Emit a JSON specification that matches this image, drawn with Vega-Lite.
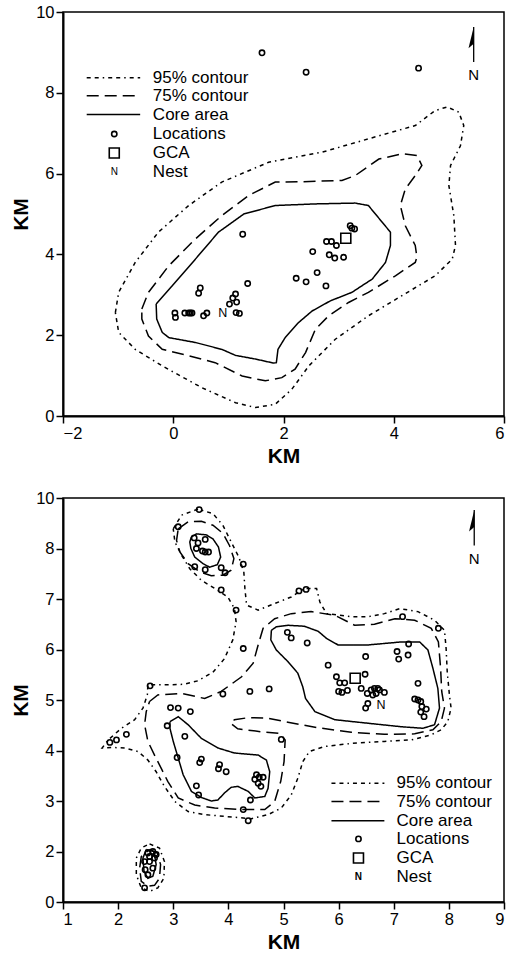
{
"$schema":"https://vega.github.io/schema/vega-lite/v6.json",
"padding":{"left":9,"top":3,"right":0,"bottom":5},
"spacing":21,
"config":{
 "font":"Liberation Sans",
 "view":{"stroke":"black","strokeWidth":1.5},
 "text":{"fill":"black","font":"Liberation Sans"},
 "axis":{"grid":false,"domainColor":"black","domainWidth":2,"tickColor":"black","tickWidth":1.5,"tickSize":7,"labelColor":"black","labelFont":"Liberation Sans","labelFontSize":16.5,"labelPadding":2,"titleFont":"Liberation Sans","titleFontSize":21,"titleFontWeight":"bold","titleColor":"black","titlePadding":4}
},
"datasets":{
"tl":[
{"id":"t95","l":"95%","x":-1.05,"y":2.56},{"id":"t95","l":"95%","x":-0.99,"y":3.06},{"id":"t95","l":"95%","x":-0.69,"y":3.80},{"id":"t95","l":"95%","x":-0.27,"y":4.55},{"id":"t95","l":"95%","x":0.28,"y":5.21},{"id":"t95","l":"95%","x":0.88,"y":5.79},{"id":"t95","l":"95%","x":1.73,"y":6.28},{"id":"t95","l":"95%","x":2.70,"y":6.53},{"id":"t95","l":"95%","x":3.54,"y":6.86},{"id":"t95","l":"95%","x":4.39,"y":7.19},{"id":"t95","l":"95%","x":4.75,"y":7.56},{"id":"t95","l":"95%","x":4.97,"y":7.65},{"id":"t95","l":"95%","x":5.18,"y":7.52},{"id":"t95","l":"95%","x":5.27,"y":7.19},{"id":"t95","l":"95%","x":5.21,"y":6.69},{"id":"t95","l":"95%","x":5.03,"y":6.20},{"id":"t95","l":"95%","x":5.00,"y":5.70},{"id":"t95","l":"95%","x":5.09,"y":4.96},{"id":"t95","l":"95%","x":5.12,"y":4.22},{"id":"t95","l":"95%","x":5.06,"y":3.88},{"id":"t95","l":"95%","x":4.75,"y":3.47},{"id":"t95","l":"95%","x":4.15,"y":2.98},{"id":"t95","l":"95%","x":3.54,"y":2.48},{"id":"t95","l":"95%","x":2.94,"y":1.90},{"id":"t95","l":"95%","x":2.46,"y":1.24},{"id":"t95","l":"95%","x":2.15,"y":0.66},{"id":"t95","l":"95%","x":1.85,"y":0.29},{"id":"t95","l":"95%","x":1.49,"y":0.21},{"id":"t95","l":"95%","x":1.13,"y":0.33},{"id":"t95","l":"95%","x":0.52,"y":0.70},{"id":"t95","l":"95%","x":-0.20,"y":1.24},{"id":"t95","l":"95%","x":-0.69,"y":1.65},{"id":"t95","l":"95%","x":-0.99,"y":2.07},{"id":"t95","l":"95%","x":-1.05,"y":2.56},
{"id":"t75","l":"75%","x":-0.57,"y":2.65},{"id":"t75","l":"75%","x":-0.45,"y":3.06},{"id":"t75","l":"75%","x":-0.08,"y":3.72},{"id":"t75","l":"75%","x":0.40,"y":4.38},{"id":"t75","l":"75%","x":0.88,"y":4.96},{"id":"t75","l":"75%","x":1.37,"y":5.46},{"id":"t75","l":"75%","x":1.85,"y":5.79},{"id":"t75","l":"75%","x":2.34,"y":5.80},{"id":"t75","l":"75%","x":3.06,"y":5.83},{"id":"t75","l":"75%","x":3.30,"y":5.95},{"id":"t75","l":"75%","x":3.73,"y":6.36},{"id":"t75","l":"75%","x":4.15,"y":6.49},{"id":"t75","l":"75%","x":4.42,"y":6.45},{"id":"t75","l":"75%","x":4.51,"y":6.20},{"id":"t75","l":"75%","x":4.39,"y":5.95},{"id":"t75","l":"75%","x":4.21,"y":5.62},{"id":"t75","l":"75%","x":4.12,"y":5.21},{"id":"t75","l":"75%","x":4.21,"y":4.71},{"id":"t75","l":"75%","x":4.39,"y":4.22},{"id":"t75","l":"75%","x":4.42,"y":3.93},{"id":"t75","l":"75%","x":4.39,"y":3.80},{"id":"t75","l":"75%","x":4.03,"y":3.47},{"id":"t75","l":"75%","x":3.54,"y":3.06},{"id":"t75","l":"75%","x":3.18,"y":2.81},{"id":"t75","l":"75%","x":2.82,"y":2.48},{"id":"t75","l":"75%","x":2.58,"y":2.15},{"id":"t75","l":"75%","x":2.40,"y":1.57},{"id":"t75","l":"75%","x":2.21,"y":1.16},{"id":"t75","l":"75%","x":1.97,"y":0.95},{"id":"t75","l":"75%","x":1.67,"y":0.87},{"id":"t75","l":"75%","x":1.25,"y":0.99},{"id":"t75","l":"75%","x":0.76,"y":1.32},{"id":"t75","l":"75%","x":0.28,"y":1.49},{"id":"t75","l":"75%","x":-0.20,"y":1.65},{"id":"t75","l":"75%","x":-0.45,"y":1.98},{"id":"t75","l":"75%","x":-0.57,"y":2.40},{"id":"t75","l":"75%","x":-0.57,"y":2.65},
{"id":"tc","l":"core","x":-0.31,"y":2.77},{"id":"tc","l":"core","x":-0.02,"y":3.22},{"id":"tc","l":"core","x":0.40,"y":3.88},{"id":"tc","l":"core","x":0.82,"y":4.55},{"id":"tc","l":"core","x":1.28,"y":5.00},{"id":"tc","l":"core","x":1.85,"y":5.21},{"id":"tc","l":"core","x":2.58,"y":5.25},{"id":"tc","l":"core","x":3.30,"y":5.27},{"id":"tc","l":"core","x":3.54,"y":5.21},{"id":"tc","l":"core","x":3.94,"y":4.55},{"id":"tc","l":"core","x":3.94,"y":4.22},{"id":"tc","l":"core","x":3.85,"y":3.80},{"id":"tc","l":"core","x":3.61,"y":3.39},{"id":"tc","l":"core","x":3.24,"y":3.06},{"id":"tc","l":"core","x":2.85,"y":2.85},{"id":"tc","l":"core","x":2.52,"y":2.60},{"id":"tc","l":"core","x":2.27,"y":2.31},{"id":"tc","l":"core","x":2.03,"y":1.94},{"id":"tc","l":"core","x":1.90,"y":1.65},{"id":"tc","l":"core","x":1.87,"y":1.32},{"id":"tc","l":"core","x":1.82,"y":1.31},{"id":"tc","l":"core","x":1.49,"y":1.41},{"id":"tc","l":"core","x":1.13,"y":1.50},{"id":"tc","l":"core","x":0.88,"y":1.65},{"id":"tc","l":"core","x":0.40,"y":1.82},{"id":"tc","l":"core","x":-0.08,"y":1.94},{"id":"tc","l":"core","x":-0.20,"y":2.07},{"id":"tc","l":"core","x":-0.30,"y":2.40},{"id":"tc","l":"core","x":-0.31,"y":2.77},
{"id":"L95","l":"95%","x":-1.57,"y":8.37},{"id":"L95","l":"95%","x":-0.60,"y":8.37},
{"id":"L75","l":"75%","x":-1.57,"y":7.93},{"id":"L75","l":"75%","x":-0.60,"y":7.93},
{"id":"Lc","l":"core","x":-1.57,"y":7.46},{"id":"Lc","l":"core","x":-0.60,"y":7.46}
],
"tp":[
{"x":1.61,"y":8.99},{"x":2.41,"y":8.51},{"x":4.45,"y":8.61},{"x":1.26,"y":4.50},{"x":3.21,"y":4.71},{"x":3.24,"y":4.65},{"x":3.29,"y":4.63},{"x":2.78,"y":4.32},{"x":2.87,"y":4.32},{"x":2.96,"y":4.22},{"x":2.53,"y":4.07},{"x":2.83,"y":3.99},{"x":2.93,"y":3.91},{"x":3.09,"y":3.93},{"x":2.23,"y":3.41},{"x":2.41,"y":3.32},{"x":2.61,"y":3.55},{"x":2.77,"y":3.22},{"x":1.35,"y":3.28},{"x":0.49,"y":3.17},{"x":0.46,"y":3.04},{"x":1.13,"y":3.02},{"x":1.08,"y":2.92},{"x":1.02,"y":2.77},{"x":1.15,"y":2.82},{"x":1.14,"y":2.56},{"x":1.20,"y":2.54},{"x":0.03,"y":2.55},{"x":0.04,"y":2.44},{"x":0.21,"y":2.55},{"x":0.28,"y":2.55},{"x":0.31,"y":2.55},{"x":0.34,"y":2.55},{"x":0.55,"y":2.48},{"x":0.61,"y":2.55},
{"x":-1.07,"y":6.98}
],
"tg":[{"x":3.13,"y":4.40},{"x":-1.07,"y":6.51}],
"tt":[
{"k":"nest","x":0.90,"y":2.56,"t":"N"},
{"k":"leg","x":-0.37,"y":8.37,"t":"95% contour"},{"k":"leg","x":-0.37,"y":7.93,"t":"75% contour"},{"k":"leg","x":-0.37,"y":7.46,"t":"Core area"},{"k":"leg","x":-0.37,"y":6.98,"t":"Locations"},{"k":"leg","x":-0.37,"y":6.51,"t":"GCA"},{"k":"leg","x":-0.37,"y":6.03,"t":"Nest"},
{"k":"legN","x":-1.07,"y":6.03,"t":"N"},
{"k":"north","x":5.45,"y":8.45,"t":"N"}
],
"ta":[{"x":5.45,"y":9.63,"y2":8.76}],
"th":[{"x":5.45,"y":9.345}],
"bl":[
{"id":"b95a","l":"95%","x":3.00,"y":8.39},{"id":"b95a","l":"95%","x":3.15,"y":8.66},{"id":"b95a","l":"95%","x":3.45,"y":8.78},{"id":"b95a","l":"95%","x":3.72,"y":8.69},{"id":"b95a","l":"95%","x":3.90,"y":8.46},{"id":"b95a","l":"95%","x":4.05,"y":8.13},{"id":"b95a","l":"95%","x":4.19,"y":7.83},{"id":"b95a","l":"95%","x":4.28,"y":7.54},{"id":"b95a","l":"95%","x":4.30,"y":7.21},{"id":"b95a","l":"95%","x":4.33,"y":6.88},{"id":"b95a","l":"95%","x":4.54,"y":6.78},{"id":"b95a","l":"95%","x":4.84,"y":6.91},{"id":"b95a","l":"95%","x":5.14,"y":7.04},{"id":"b95a","l":"95%","x":5.38,"y":7.21},{"id":"b95a","l":"95%","x":5.60,"y":7.21},{"id":"b95a","l":"95%","x":5.66,"y":6.94},{"id":"b95a","l":"95%","x":5.78,"y":6.71},{"id":"b95a","l":"95%","x":6.23,"y":6.65},{"id":"b95a","l":"95%","x":6.53,"y":6.65},{"id":"b95a","l":"95%","x":6.83,"y":6.71},{"id":"b95a","l":"95%","x":7.11,"y":6.81},{"id":"b95a","l":"95%","x":7.44,"y":6.75},{"id":"b95a","l":"95%","x":7.74,"y":6.58},{"id":"b95a","l":"95%","x":7.92,"y":6.38},{"id":"b95a","l":"95%","x":7.95,"y":6.02},{"id":"b95a","l":"95%","x":7.97,"y":5.56},{"id":"b95a","l":"95%","x":8.01,"y":5.10},{"id":"b95a","l":"95%","x":8.04,"y":4.84},{"id":"b95a","l":"95%","x":7.98,"y":4.57},{"id":"b95a","l":"95%","x":7.86,"y":4.41},{"id":"b95a","l":"95%","x":7.68,"y":4.31},{"id":"b95a","l":"95%","x":7.32,"y":4.21},{"id":"b95a","l":"95%","x":6.83,"y":4.18},{"id":"b95a","l":"95%","x":6.23,"y":4.14},{"id":"b95a","l":"95%","x":5.75,"y":4.08},{"id":"b95a","l":"95%","x":5.47,"y":3.98},{"id":"b95a","l":"95%","x":5.35,"y":3.78},{"id":"b95a","l":"95%","x":5.26,"y":3.45},{"id":"b95a","l":"95%","x":5.14,"y":3.12},{"id":"b95a","l":"95%","x":4.96,"y":2.86},{"id":"b95a","l":"95%","x":4.72,"y":2.73},{"id":"b95a","l":"95%","x":4.42,"y":2.65},{"id":"b95a","l":"95%","x":3.99,"y":2.69},{"id":"b95a","l":"95%","x":3.57,"y":2.73},{"id":"b95a","l":"95%","x":3.27,"y":2.79},{"id":"b95a","l":"95%","x":3.03,"y":2.99},{"id":"b95a","l":"95%","x":2.84,"y":3.29},{"id":"b95a","l":"95%","x":2.69,"y":3.58},{"id":"b95a","l":"95%","x":2.54,"y":3.81},{"id":"b95a","l":"95%","x":2.36,"y":3.98},{"id":"b95a","l":"95%","x":2.12,"y":4.05},{"id":"b95a","l":"95%","x":1.88,"y":4.06},{"id":"b95a","l":"95%","x":1.71,"y":4.05},{"id":"b95a","l":"95%","x":1.82,"y":4.21},{"id":"b95a","l":"95%","x":2.06,"y":4.44},{"id":"b95a","l":"95%","x":2.30,"y":4.61},{"id":"b95a","l":"95%","x":2.45,"y":4.84},{"id":"b95a","l":"95%","x":2.53,"y":5.10},{"id":"b95a","l":"95%","x":2.54,"y":5.30},{"id":"b95a","l":"95%","x":2.84,"y":5.30},{"id":"b95a","l":"95%","x":3.18,"y":5.31},{"id":"b95a","l":"95%","x":3.45,"y":5.38},{"id":"b95a","l":"95%","x":3.72,"y":5.55},{"id":"b95a","l":"95%","x":3.93,"y":5.82},{"id":"b95a","l":"95%","x":4.08,"y":6.19},{"id":"b95a","l":"95%","x":4.14,"y":6.55},{"id":"b95a","l":"95%","x":4.11,"y":6.81},{"id":"b95a","l":"95%","x":3.99,"y":7.04},{"id":"b95a","l":"95%","x":3.75,"y":7.21},{"id":"b95a","l":"95%","x":3.51,"y":7.37},{"id":"b95a","l":"95%","x":3.30,"y":7.60},{"id":"b95a","l":"95%","x":3.15,"y":7.87},{"id":"b95a","l":"95%","x":3.03,"y":8.13},{"id":"b95a","l":"95%","x":3.00,"y":8.39},
{"id":"b95b","l":"95%","x":2.57,"y":2.15},{"id":"b95b","l":"95%","x":2.75,"y":2.07},{"id":"b95b","l":"95%","x":2.84,"y":1.80},{"id":"b95b","l":"95%","x":2.83,"y":1.47},{"id":"b95b","l":"95%","x":2.72,"y":1.28},{"id":"b95b","l":"95%","x":2.57,"y":1.21},{"id":"b95b","l":"95%","x":2.42,"y":1.28},{"id":"b95b","l":"95%","x":2.33,"y":1.54},{"id":"b95b","l":"95%","x":2.33,"y":1.87},{"id":"b95b","l":"95%","x":2.42,"y":2.07},{"id":"b95b","l":"95%","x":2.57,"y":2.15},
{"id":"b75a","l":"75%","x":3.09,"y":8.39},{"id":"b75a","l":"75%","x":3.27,"y":8.53},{"id":"b75a","l":"75%","x":3.51,"y":8.54},{"id":"b75a","l":"75%","x":3.72,"y":8.46},{"id":"b75a","l":"75%","x":3.90,"y":8.30},{"id":"b75a","l":"75%","x":4.02,"y":8.06},{"id":"b75a","l":"75%","x":4.10,"y":7.80},{"id":"b75a","l":"75%","x":4.05,"y":7.57},{"id":"b75a","l":"75%","x":3.90,"y":7.47},{"id":"b75a","l":"75%","x":3.69,"y":7.46},{"id":"b75a","l":"75%","x":3.48,"y":7.54},{"id":"b75a","l":"75%","x":3.27,"y":7.70},{"id":"b75a","l":"75%","x":3.12,"y":7.93},{"id":"b75a","l":"75%","x":3.06,"y":8.16},{"id":"b75a","l":"75%","x":3.09,"y":8.39},
{"id":"b75b","l":"75%","x":2.57,"y":4.97},{"id":"b75b","l":"75%","x":2.72,"y":5.10},{"id":"b75b","l":"75%","x":3.15,"y":5.13},{"id":"b75b","l":"75%","x":3.57,"y":5.03},{"id":"b75b","l":"75%","x":3.87,"y":5.17},{"id":"b75b","l":"75%","x":4.24,"y":5.46},{"id":"b75b","l":"75%","x":4.45,"y":5.73},{"id":"b75b","l":"75%","x":4.54,"y":6.09},{"id":"b75b","l":"75%","x":4.63,"y":6.42},{"id":"b75b","l":"75%","x":4.84,"y":6.61},{"id":"b75b","l":"75%","x":5.14,"y":6.71},{"id":"b75b","l":"75%","x":5.50,"y":6.75},{"id":"b75b","l":"75%","x":5.93,"y":6.68},{"id":"b75b","l":"75%","x":6.29,"y":6.48},{"id":"b75b","l":"75%","x":6.65,"y":6.50},{"id":"b75b","l":"75%","x":7.02,"y":6.61},{"id":"b75b","l":"75%","x":7.38,"y":6.58},{"id":"b75b","l":"75%","x":7.68,"y":6.42},{"id":"b75b","l":"75%","x":7.81,"y":6.15},{"id":"b75b","l":"75%","x":7.85,"y":5.63},{"id":"b75b","l":"75%","x":7.87,"y":5.17},{"id":"b75b","l":"75%","x":7.92,"y":4.84},{"id":"b75b","l":"75%","x":7.86,"y":4.57},{"id":"b75b","l":"75%","x":7.71,"y":4.41},{"id":"b75b","l":"75%","x":7.38,"y":4.33},{"id":"b75b","l":"75%","x":6.83,"y":4.32},{"id":"b75b","l":"75%","x":6.23,"y":4.36},{"id":"b75b","l":"75%","x":5.63,"y":4.45},{"id":"b75b","l":"75%","x":5.08,"y":4.56},{"id":"b75b","l":"75%","x":4.72,"y":4.64},{"id":"b75b","l":"75%","x":4.36,"y":4.65},{"id":"b75b","l":"75%","x":4.11,"y":4.61},{"id":"b75b","l":"75%","x":4.04,"y":4.54},{"id":"b75b","l":"75%","x":4.17,"y":4.43},{"id":"b75b","l":"75%","x":4.60,"y":4.37},{"id":"b75b","l":"75%","x":4.93,"y":4.34},{"id":"b75b","l":"75%","x":5.03,"y":4.21},{"id":"b75b","l":"75%","x":5.01,"y":3.78},{"id":"b75b","l":"75%","x":4.95,"y":3.39},{"id":"b75b","l":"75%","x":4.84,"y":2.99},{"id":"b75b","l":"75%","x":4.66,"y":2.83},{"id":"b75b","l":"75%","x":4.24,"y":2.83},{"id":"b75b","l":"75%","x":3.75,"y":2.86},{"id":"b75b","l":"75%","x":3.39,"y":2.92},{"id":"b75b","l":"75%","x":3.09,"y":3.06},{"id":"b75b","l":"75%","x":2.90,"y":3.39},{"id":"b75b","l":"75%","x":2.78,"y":3.65},{"id":"b75b","l":"75%","x":2.66,"y":3.91},{"id":"b75b","l":"75%","x":2.54,"y":4.18},{"id":"b75b","l":"75%","x":2.48,"y":4.51},{"id":"b75b","l":"75%","x":2.51,"y":4.77},{"id":"b75b","l":"75%","x":2.57,"y":4.97},
{"id":"b75c","l":"75%","x":2.57,"y":2.04},{"id":"b75c","l":"75%","x":2.71,"y":1.97},{"id":"b75c","l":"75%","x":2.77,"y":1.74},{"id":"b75c","l":"75%","x":2.75,"y":1.47},{"id":"b75c","l":"75%","x":2.66,"y":1.33},{"id":"b75c","l":"75%","x":2.54,"y":1.31},{"id":"b75c","l":"75%","x":2.42,"y":1.41},{"id":"b75c","l":"75%","x":2.39,"y":1.67},{"id":"b75c","l":"75%","x":2.42,"y":1.90},{"id":"b75c","l":"75%","x":2.57,"y":2.04},
{"id":"bca","l":"core","x":3.33,"y":8.23},{"id":"bca","l":"core","x":3.42,"y":8.29},{"id":"bca","l":"core","x":3.60,"y":8.27},{"id":"bca","l":"core","x":3.72,"y":8.19},{"id":"bca","l":"core","x":3.82,"y":8.03},{"id":"bca","l":"core","x":3.86,"y":7.83},{"id":"bca","l":"core","x":3.80,"y":7.68},{"id":"bca","l":"core","x":3.66,"y":7.63},{"id":"bca","l":"core","x":3.54,"y":7.70},{"id":"bca","l":"core","x":3.39,"y":7.83},{"id":"bca","l":"core","x":3.32,"y":8.00},{"id":"bca","l":"core","x":3.30,"y":8.13},{"id":"bca","l":"core","x":3.33,"y":8.23},
{"id":"bcb","l":"core","x":4.78,"y":6.38},{"id":"bcb","l":"core","x":4.77,"y":6.19},{"id":"bcb","l":"core","x":4.87,"y":5.99},{"id":"bcb","l":"core","x":5.08,"y":5.76},{"id":"bcb","l":"core","x":5.26,"y":5.53},{"id":"bcb","l":"core","x":5.35,"y":5.26},{"id":"bcb","l":"core","x":5.40,"y":5.03},{"id":"bcb","l":"core","x":5.57,"y":4.77},{"id":"bcb","l":"core","x":5.93,"y":4.61},{"id":"bcb","l":"core","x":6.53,"y":4.54},{"id":"bcb","l":"core","x":7.14,"y":4.47},{"id":"bcb","l":"core","x":7.53,"y":4.44},{"id":"bcb","l":"core","x":7.74,"y":4.51},{"id":"bcb","l":"core","x":7.83,"y":4.84},{"id":"bcb","l":"core","x":7.80,"y":5.23},{"id":"bcb","l":"core","x":7.71,"y":5.63},{"id":"bcb","l":"core","x":7.62,"y":5.99},{"id":"bcb","l":"core","x":7.47,"y":6.15},{"id":"bcb","l":"core","x":7.14,"y":6.15},{"id":"bcb","l":"core","x":6.53,"y":6.09},{"id":"bcb","l":"core","x":5.99,"y":6.09},{"id":"bcb","l":"core","x":5.78,"y":6.22},{"id":"bcb","l":"core","x":5.63,"y":6.36},{"id":"bcb","l":"core","x":5.38,"y":6.46},{"id":"bcb","l":"core","x":5.08,"y":6.48},{"id":"bcb","l":"core","x":4.87,"y":6.45},{"id":"bcb","l":"core","x":4.78,"y":6.38},
{"id":"bcc","l":"core","x":2.94,"y":4.57},{"id":"bcc","l":"core","x":3.09,"y":4.67},{"id":"bcc","l":"core","x":3.27,"y":4.51},{"id":"bcc","l":"core","x":3.51,"y":4.24},{"id":"bcc","l":"core","x":3.81,"y":4.05},{"id":"bcc","l":"core","x":4.11,"y":3.95},{"id":"bcc","l":"core","x":4.54,"y":3.91},{"id":"bcc","l":"core","x":4.69,"y":3.81},{"id":"bcc","l":"core","x":4.75,"y":3.58},{"id":"bcc","l":"core","x":4.72,"y":3.25},{"id":"bcc","l":"core","x":4.66,"y":3.09},{"id":"bcc","l":"core","x":4.48,"y":3.06},{"id":"bcc","l":"core","x":4.36,"y":3.19},{"id":"bcc","l":"core","x":4.17,"y":3.29},{"id":"bcc","l":"core","x":4.05,"y":3.27},{"id":"bcc","l":"core","x":3.93,"y":3.16},{"id":"bcc","l":"core","x":3.81,"y":3.02},{"id":"bcc","l":"core","x":3.69,"y":3.00},{"id":"bcc","l":"core","x":3.51,"y":3.07},{"id":"bcc","l":"core","x":3.33,"y":3.19},{"id":"bcc","l":"core","x":3.18,"y":3.52},{"id":"bcc","l":"core","x":3.09,"y":3.85},{"id":"bcc","l":"core","x":3.00,"y":4.18},{"id":"bcc","l":"core","x":2.94,"y":4.44},{"id":"bcc","l":"core","x":2.94,"y":4.57},
{"id":"bcd","l":"core","x":2.51,"y":2.04},{"id":"bcd","l":"core","x":2.65,"y":2.00},{"id":"bcd","l":"core","x":2.69,"y":1.74},{"id":"bcd","l":"core","x":2.63,"y":1.51},{"id":"bcd","l":"core","x":2.54,"y":1.47},{"id":"bcd","l":"core","x":2.47,"y":1.61},{"id":"bcd","l":"core","x":2.45,"y":1.87},{"id":"bcd","l":"core","x":2.51,"y":2.04},
{"id":"M95","l":"95%","x":5.87,"y":3.35},{"id":"M95","l":"95%","x":6.83,"y":3.35},
{"id":"M75","l":"75%","x":5.87,"y":2.99},{"id":"M75","l":"75%","x":6.83,"y":2.99},
{"id":"Mc","l":"core","x":5.87,"y":2.61},{"id":"Mc","l":"core","x":6.83,"y":2.61}
],
"bp":[
{"x":3.47,"y":8.77},{"x":3.09,"y":8.43},{"x":3.38,"y":8.21},{"x":3.58,"y":8.18},{"x":3.45,"y":8.11},{"x":3.42,"y":8.00},{"x":3.53,"y":7.95},{"x":3.58,"y":7.93},{"x":3.64,"y":7.93},{"x":3.39,"y":7.64},{"x":3.58,"y":7.58},{"x":3.87,"y":7.62},{"x":3.94,"y":7.52},{"x":4.27,"y":7.69},{"x":3.87,"y":7.18},{"x":4.14,"y":6.78},{"x":4.27,"y":6.02},{"x":2.58,"y":5.28},{"x":3.90,"y":5.12},{"x":4.39,"y":5.17},{"x":4.74,"y":5.22},{"x":5.28,"y":7.16},{"x":5.41,"y":7.19},{"x":7.16,"y":6.65},{"x":7.81,"y":6.42},{"x":5.07,"y":6.34},{"x":5.14,"y":6.23},{"x":5.43,"y":6.13},{"x":5.81,"y":5.69},{"x":6.49,"y":5.86},{"x":7.06,"y":5.96},{"x":7.09,"y":5.81},{"x":7.27,"y":6.11},{"x":7.26,"y":5.89},{"x":5.96,"y":5.46},{"x":6.02,"y":5.34},{"x":6.11,"y":5.34},{"x":6.00,"y":5.17},{"x":6.06,"y":5.15},{"x":6.16,"y":5.19},{"x":6.48,"y":5.51},{"x":6.41,"y":5.23},{"x":6.52,"y":5.13},{"x":6.59,"y":5.20},{"x":6.65,"y":5.23},{"x":6.71,"y":5.23},{"x":6.62,"y":5.10},{"x":6.68,"y":5.13},{"x":6.74,"y":5.20},{"x":6.83,"y":5.15},{"x":6.53,"y":4.93},{"x":6.49,"y":4.84},{"x":7.44,"y":5.33},{"x":7.38,"y":5.02},{"x":7.44,"y":5.00},{"x":7.49,"y":4.97},{"x":7.51,"y":4.87},{"x":7.59,"y":4.82},{"x":7.49,"y":4.76},{"x":7.55,"y":4.67},{"x":1.85,"y":4.16},{"x":1.97,"y":4.21},{"x":2.15,"y":4.32},{"x":2.95,"y":4.85},{"x":3.09,"y":4.84},{"x":3.31,"y":4.77},{"x":2.89,"y":4.49},{"x":3.21,"y":4.28},{"x":3.07,"y":3.86},{"x":3.51,"y":3.83},{"x":3.48,"y":3.76},{"x":3.84,"y":3.72},{"x":3.82,"y":3.64},{"x":3.96,"y":3.58},{"x":3.42,"y":3.30},{"x":3.46,"y":3.12},{"x":4.51,"y":3.52},{"x":4.48,"y":3.43},{"x":4.56,"y":3.47},{"x":4.63,"y":3.47},{"x":4.54,"y":3.35},{"x":4.59,"y":3.29},{"x":4.40,"y":3.02},{"x":4.27,"y":2.83},{"x":4.36,"y":2.61},{"x":4.96,"y":4.22},{"x":2.48,"y":1.28},{"x":2.54,"y":1.54},{"x":2.49,"y":1.64},{"x":2.63,"y":1.67},{"x":2.57,"y":1.80},{"x":2.66,"y":1.87},{"x":2.54,"y":1.97},{"x":2.63,"y":2.00},{"x":2.69,"y":1.94},{"x":2.57,"y":1.90},{"x":2.48,"y":1.80},
{"x":6.36,"y":2.25}
],
"bg":[{"x":6.30,"y":5.43},{"x":6.36,"y":1.87}],
"bt":[
{"k":"nest","x":6.77,"y":4.91,"t":"N"},
{"k":"leg","x":7.05,"y":3.35,"t":"95% contour"},{"k":"leg","x":7.05,"y":2.99,"t":"75% contour"},{"k":"leg","x":7.05,"y":2.61,"t":"Core area"},{"k":"leg","x":7.05,"y":2.25,"t":"Locations"},{"k":"leg","x":7.05,"y":1.87,"t":"GCA"},{"k":"leg","x":7.05,"y":1.49,"t":"Nest"},
{"k":"legN","x":6.36,"y":1.49,"t":"N"},
{"k":"north","x":8.46,"y":7.79,"t":"N"}
],
"ba":[{"x":8.46,"y":8.76,"y2":8.06}],
"bh":[{"x":8.46,"y":8.53}]
},
"vconcat":[
{
 "width":441,"height":404,
 "encoding":{
  "x":{"field":"x","type":"quantitative","scale":{"domain":[-2,6],"nice":false,"zero":false},"axis":{"values":[-2,0,2,4,6],"title":"KM"}},
  "y":{"field":"y","type":"quantitative","scale":{"domain":[0,10],"nice":false,"zero":false},"axis":{"values":[0,2,4,6,8,10],"title":"KM"}}
 },
 "layer":[
  {"data":{"name":"tl"},"mark":{"type":"line","color":"black","strokeWidth":1.5},"encoding":{"detail":{"field":"id"},"order":{"value":null},"strokeDash":{"field":"l","type":"nominal","scale":{"domain":["95%","75%","core"],"range":[[4,4,4,4,1.5,4],[12,6],[1,0]]},"legend":null}}},
  {"data":{"name":"tp"},"mark":{"type":"point","shape":"circle","size":28,"strokeWidth":1.6,"color":"black","opacity":1}},
  {"data":{"name":"tg"},"mark":{"type":"point","shape":"square","size":100,"strokeWidth":1.6,"color":"black","opacity":1}},
  {"data":{"name":"tt"},"transform":[{"filter":"datum.k=='nest'"}],"mark":{"type":"text","fontSize":12.5,"fill":"black","color":"black"},"encoding":{"text":{"field":"t"}}},
  {"data":{"name":"tt"},"transform":[{"filter":"datum.k=='leg'"}],"mark":{"type":"text","fontSize":17,"align":"left","baseline":"middle","fill":"black","color":"black"},"encoding":{"text":{"field":"t"}}},
  {"data":{"name":"tt"},"transform":[{"filter":"datum.k=='legN'"}],"mark":{"type":"text","fontSize":10,"fill":"black","color":"black"},"encoding":{"text":{"field":"t"}}},
  {"data":{"name":"tt"},"transform":[{"filter":"datum.k=='north'"}],"mark":{"type":"text","fontSize":15,"fill":"black","color":"black"},"encoding":{"text":{"field":"t"}}},
  {"data":{"name":"ta"},"mark":{"type":"rule","color":"black","strokeWidth":1.3},"encoding":{"y2":{"field":"y2"}}},
  {"data":{"name":"th"},"mark":{"type":"point","shape":"M0,-1L-0.45,0.85L0,0.45Z","size":529,"filled":true,"color":"black","opacity":1}}
 ]
},
{
 "width":441,"height":404,
 "encoding":{
  "x":{"field":"x","type":"quantitative","scale":{"domain":[1,9],"nice":false,"zero":false},"axis":{"values":[1,2,3,4,5,6,7,8,9],"title":"KM"}},
  "y":{"field":"y","type":"quantitative","scale":{"domain":[1,9],"nice":false,"zero":false},"axis":{"values":[1,2,3,4,5,6,7,8,9],"labelExpr":"datum.value == 1 ? '0' : datum.value == 9 ? '10' : datum.label","title":"KM"}}
 },
 "layer":[
  {"data":{"name":"bl"},"mark":{"type":"line","color":"black","strokeWidth":1.5},"encoding":{"detail":{"field":"id"},"order":{"value":null},"strokeDash":{"field":"l","type":"nominal","scale":{"domain":["95%","75%","core"],"range":[[4,4,4,4,1.5,4],[12,6],[1,0]]},"legend":null}}},
  {"data":{"name":"bp"},"mark":{"type":"point","shape":"circle","size":28,"strokeWidth":1.6,"color":"black","opacity":1}},
  {"data":{"name":"bg"},"mark":{"type":"point","shape":"square","size":100,"strokeWidth":1.6,"color":"black","opacity":1}},
  {"data":{"name":"bt"},"transform":[{"filter":"datum.k=='nest'"}],"mark":{"type":"text","fontSize":12.5,"fill":"black","color":"black"},"encoding":{"text":{"field":"t"}}},
  {"data":{"name":"bt"},"transform":[{"filter":"datum.k=='leg'"}],"mark":{"type":"text","fontSize":17,"align":"left","baseline":"middle","fill":"black","color":"black"},"encoding":{"text":{"field":"t"}}},
  {"data":{"name":"bt"},"transform":[{"filter":"datum.k=='legN'"}],"mark":{"type":"text","fontSize":10,"fontWeight":"bold","fill":"black","color":"black"},"encoding":{"text":{"field":"t"}}},
  {"data":{"name":"bt"},"transform":[{"filter":"datum.k=='north'"}],"mark":{"type":"text","fontSize":15,"fill":"black","color":"black"},"encoding":{"text":{"field":"t"}}},
  {"data":{"name":"ba"},"mark":{"type":"rule","color":"black","strokeWidth":1.3},"encoding":{"y2":{"field":"y2"}}},
  {"data":{"name":"bh"},"mark":{"type":"point","shape":"M0,-1L-0.45,0.85L0,0.45Z","size":529,"filled":true,"color":"black","opacity":1}}
 ]
}
]
}
